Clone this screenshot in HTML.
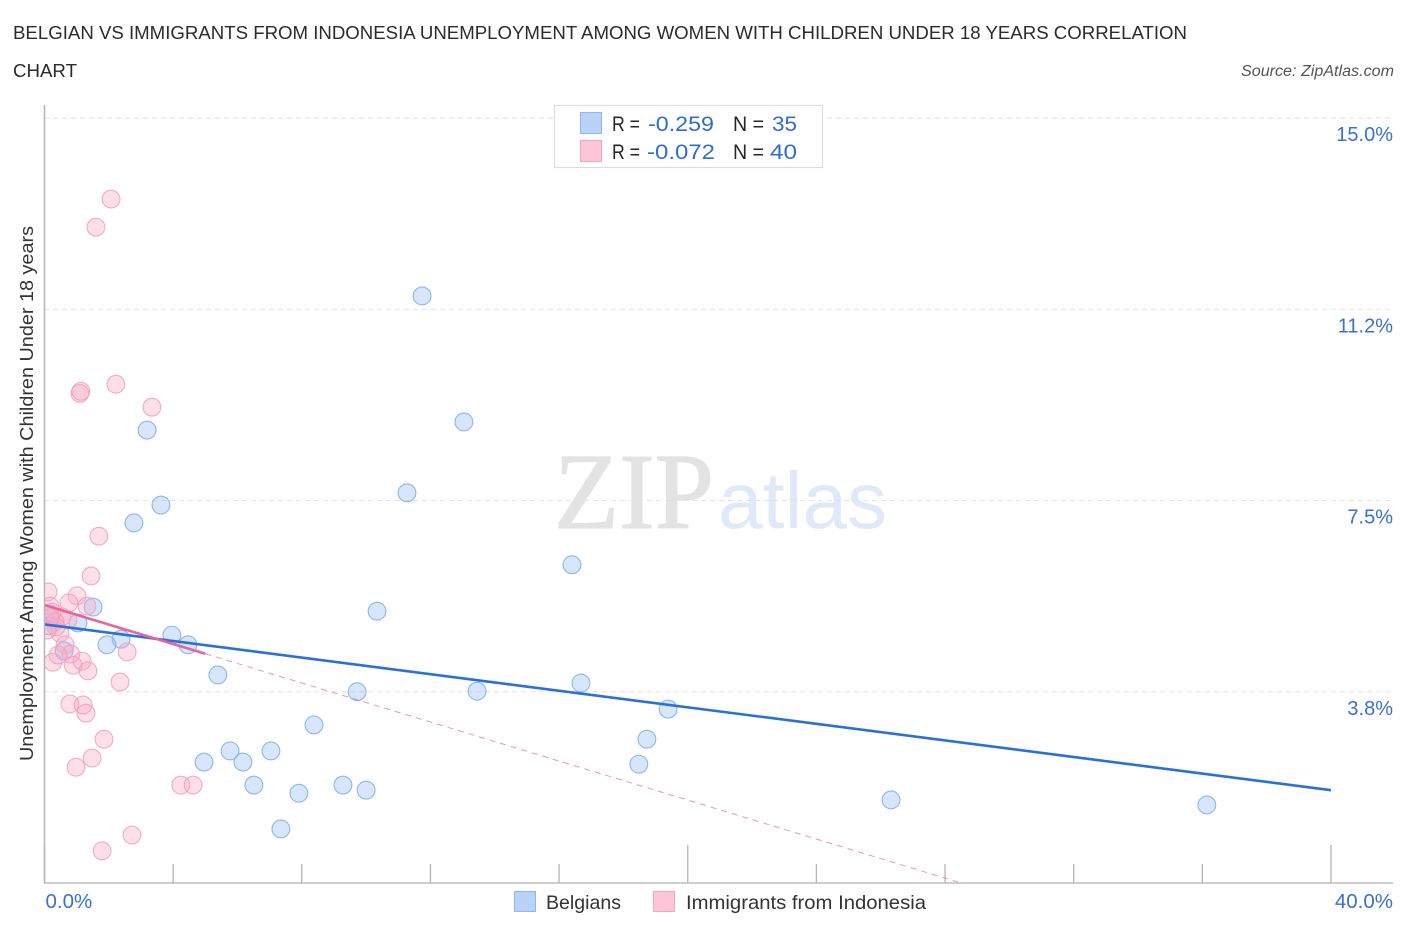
<!DOCTYPE html>
<html lang="en">
<head>
<meta charset="utf-8">
<title>Belgian vs Immigrants from Indonesia Unemployment Chart</title>
<style>
html,body{margin:0;padding:0;background:#fff;}
body{width:1406px;height:930px;overflow:hidden;}
svg{display:block;}
text{font-family:"Liberation Sans",sans-serif;}
</style>
</head>
<body>
<svg id="chart" width="1406" height="930" viewBox="0 0 1406 930" xmlns="http://www.w3.org/2000/svg">
  <defs>
    <clipPath id="plot-clip"><rect x="45" y="100" width="1350" height="783"></rect></clipPath>
  </defs>
  <rect x="0" y="0" width="1406" height="930" fill="#ffffff"></rect>

  <text x="13" y="39" font-size="18.5" fill="#2b2b2b" textLength="1174" lengthAdjust="spacingAndGlyphs">BELGIAN VS IMMIGRANTS FROM INDONESIA UNEMPLOYMENT AMONG WOMEN WITH CHILDREN UNDER 18 YEARS CORRELATION</text>
  <text x="13" y="77" font-size="18.5" fill="#2b2b2b" textLength="64" lengthAdjust="spacingAndGlyphs">CHART</text>
  <text x="1241" y="76" font-size="15.5" font-style="italic" fill="#555555" textLength="153" lengthAdjust="spacingAndGlyphs">Source: ZipAtlas.com</text>

  <g>
    <text x="554" y="528" font-size="108" fill="#e3e3e3" stroke="#e3e3e3" stroke-width="1.2" style="font-family:'Liberation Serif',serif" textLength="160" lengthAdjust="spacingAndGlyphs">ZIP</text>
    <text x="718" y="528" font-size="80" fill="#dfe9f8" textLength="169" lengthAdjust="spacingAndGlyphs">atlas</text>
  </g>

  <g id="grid"></g>

  <line x1="44.5" y1="105" x2="44.5" y2="883" stroke="#b5b5b5" stroke-width="1.5"></line>
  <line x1="44" y1="883" x2="1393" y2="883" stroke="#bdbdbd" stroke-width="1.5"></line>
  <g id="x-ticks"></g>
  <g id="y-labels"></g>
  <g id="x-labels"></g>

  <text transform="translate(33,761) rotate(-90)" x="0" y="0" font-size="18.5" fill="#333333" textLength="535" lengthAdjust="spacingAndGlyphs">Unemployment Among Women with Children Under 18 years</text>

  <g id="marks" clip-path="url(#plot-clip)"></g>

  <g>
    <rect x="554.5" y="105.5" width="268" height="62" fill="#ffffff" stroke="#dddddd" stroke-width="1.2"></rect>
    <rect x="580.5" y="112.5" width="21" height="21" fill="#b9d3f8" stroke="#8fb6ee" stroke-width="1"></rect>
    <rect x="580.5" y="140.5" width="21" height="21" fill="#fcc6d8" stroke="#f3a5bf" stroke-width="1"></rect>
    <text x="612" y="131" font-size="21" fill="#262626" textLength="28" lengthAdjust="spacingAndGlyphs">R =</text>
    <text x="648" y="131" font-size="21.5" fill="#2f6cd0" textLength="66" lengthAdjust="spacingAndGlyphs">-0.259</text>
    <text x="733" y="131" font-size="21" fill="#262626" textLength="31" lengthAdjust="spacingAndGlyphs">N =</text>
    <text x="772" y="131" font-size="21.5" fill="#2f6cd0" textLength="25" lengthAdjust="spacingAndGlyphs">35</text>
    <text x="612" y="159" font-size="21" fill="#262626" textLength="28" lengthAdjust="spacingAndGlyphs">R =</text>
    <text x="647" y="159" font-size="21.5" fill="#2f6cd0" textLength="68" lengthAdjust="spacingAndGlyphs">-0.072</text>
    <text x="733" y="159" font-size="21" fill="#262626" textLength="31" lengthAdjust="spacingAndGlyphs">N =</text>
    <text x="770" y="159" font-size="21.5" fill="#2f6cd0" textLength="27" lengthAdjust="spacingAndGlyphs">40</text>
  </g>

  <g>
    <rect x="514.5" y="891.5" width="21" height="20" fill="#b9d3f8" stroke="#8fb6ee" stroke-width="1"></rect>
    <text x="546" y="909" font-size="19.5" fill="#333333" textLength="75" lengthAdjust="spacingAndGlyphs">Belgians</text>
    <rect x="653.5" y="891.5" width="21" height="20" fill="#fcc6d8" stroke="#f3a5bf" stroke-width="1"></rect>
    <text x="686" y="909" font-size="19.5" fill="#333333" textLength="240" lengthAdjust="spacingAndGlyphs">Immigrants from Indonesia</text>
  </g>
</svg>

<script>
// Chart data (in percent)
const belgiansX = [11.74,13.04,3.19,3.62,11.27,2.78,16.40,10.34,1.51,1.04,3.96,4.46,2.38,1.94,0.61,5.39,9.72,13.45,16.68,19.39,18.73,18.48,8.38,4.96,5.77,6.17,7.04,6.51,7.91,9.28,10.00,7.35,26.32,36.14,0.17,0.14];
const belgiansY = [11.51,9.04,8.88,7.41,7.65,7.06,6.24,5.33,5.41,5.10,4.86,4.67,4.78,4.67,4.55,4.08,3.75,3.76,3.92,3.41,2.82,2.33,3.10,2.37,2.59,2.37,2.59,1.92,1.76,1.92,1.82,1.06,1.63,1.53,5.27,5.04];
const indonesiaX = [2.07,1.60,1.10,1.13,2.22,3.34,1.69,1.45,0.11,1.01,0.76,1.32,0.17,0.54,0.73,0.33,0.23,0.48,0.64,0.82,1.17,0.89,0.26,1.35,0.42,2.57,2.35,0.79,1.20,1.29,1.85,1.48,0.98,4.24,4.62,2.72,1.79,0.36,0.17,0.08];
const indonesiaY = [13.41,12.86,9.60,9.64,9.78,9.33,6.80,6.02,5.71,5.63,5.49,5.43,5.43,5.22,5.16,5.12,5.31,4.90,4.67,4.49,4.35,4.27,4.33,4.16,4.47,4.53,3.94,3.51,3.49,3.33,2.82,2.45,2.27,1.92,1.92,0.94,0.63,5.02,5.20,4.96];
const belgiansTrendX = [0, 40];
const belgiansTrendY = [5.07, 1.82];
const indonesiaTrendX = [0, 5];
const indonesiaTrendY = [5.45, 4.495];
const indonesiaDashX = [5, 28.4];
const indonesiaDashY = [4.495, 0.02];
const xTickValues = [0,4,8,12,16,20,24,28,32,36,40];
const xLabelValues = [0, 40];
const xLabelText = ['0.0%', '40.0%'];
const yTickValues = [3.75, 7.5, 11.25, 15];
const yTickText = ['3.8%', '7.5%', '11.2%', '15.0%'];

const NS = 'http://www.w3.org/2000/svg';
function xScale(v) { return 44.5 + v * (1331 - 44.5) / 40; }
function yScale(v) { return 883 - v * 51; }
function make(tag, parent, props) {
  const el = document.createElementNS(NS, tag);
  for (const k in props) el.setAttribute(k, props[k]);
  parent.appendChild(el);
  return el;
}

const gridG = document.getElementById('grid');
const yLabelG = document.getElementById('y-labels');
yTickValues.forEach(function (v, i) {
  const gl = make('line', gridG, {x1: 44, x2: 1393, y1: yScale(v), y2: yScale(v), stroke: '#e2e2e2', 'stroke-width': 1, 'stroke-dasharray': '5 4'});
  
  
  const t = make('text', yLabelG, {x: 1393, y: yScale(v) + 23, 'text-anchor': 'end', 'font-size': 20, fill: '#3a70d2'});
  t.textContent = yTickText[i];
  
  
});

const xTickG = document.getElementById('x-ticks');
xTickValues.forEach(function (v, i) {
  const tall = i % 5 === 0;
  const tk = make('line', xTickG, {x1: xScale(v), x2: xScale(v), y1: tall ? 845 : 864, y2: 883, stroke: '#b5b5b5', 'stroke-width': 1.3});
  
  
});

const xLabelG = document.getElementById('x-labels');
xLabelValues.forEach(function (v, i) {
  const lb = make('text', xLabelG, {x: i === 0 ? xScale(v) + 1 : 1393, y: 908, 'text-anchor': i === 0 ? 'start' : 'end', 'font-size': 20.5, fill: '#3a70d2'});
  lb.textContent = xLabelText[i];
  
  
});

const marks = document.getElementById('marks');
belgiansX.forEach(function (v, i) {
  const c = make('circle', marks, {cx: xScale(v), cy: yScale(belgiansY[i]), r: 8.9, fill: 'rgba(160,195,245,0.42)', stroke: '#7dabea', 'stroke-width': 1.1, 'stroke-opacity': 0.85});
  
  
});
indonesiaX.forEach(function (v, i) {
  const c = make('circle', marks, {cx: xScale(v), cy: yScale(indonesiaY[i]), r: 8.9, fill: 'rgba(248,170,198,0.38)', stroke: '#f09fbb', 'stroke-width': 1.1, 'stroke-opacity': 0.85});
  
  
});

const blueLine = make('line', marks, {x1: xScale(belgiansTrendX[0]), y1: yScale(belgiansTrendY[0]), x2: xScale(belgiansTrendX[1]), y2: yScale(belgiansTrendY[1]), stroke: '#2a6fdb', 'stroke-width': 2.6});


const pinkLine = make('line', marks, {x1: xScale(indonesiaTrendX[0]), y1: yScale(indonesiaTrendY[0]), x2: xScale(indonesiaTrendX[1]), y2: yScale(indonesiaTrendY[1]), stroke: '#e8659a', 'stroke-width': 2.6});


const pinkDash = make('line', marks, {x1: xScale(indonesiaDashX[0]), y1: yScale(indonesiaDashY[0]), x2: xScale(indonesiaDashX[1]), y2: yScale(indonesiaDashY[1]), stroke: '#e8659a', 'stroke-width': 1, 'stroke-dasharray': '6 5', 'stroke-opacity': 0.7});


</script>
</body>
</html>
